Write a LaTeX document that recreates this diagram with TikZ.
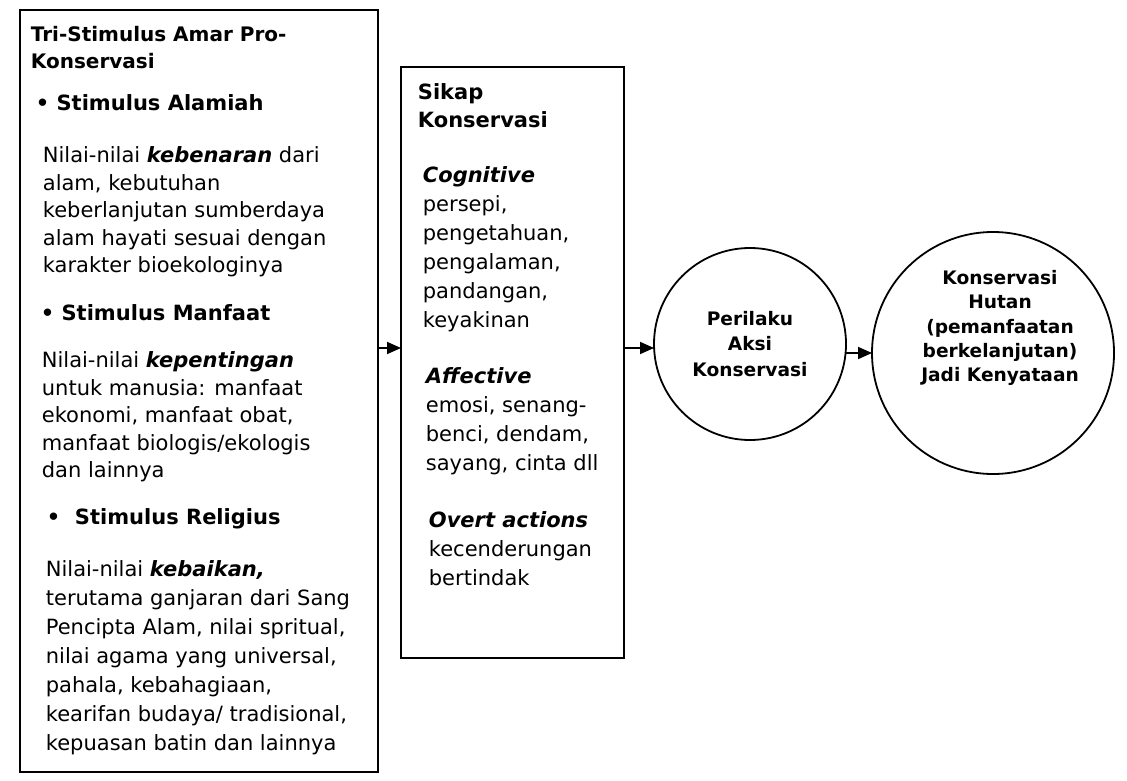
\documentclass[tikz,border=0pt]{standalone}
\usepackage{fontspec}
\setmainfont{DejaVu Sans}[ItalicFont={DejaVu Sans Oblique},BoldFont={DejaVu Sans Bold},BoldItalicFont={DejaVu Sans Bold Oblique}]
\usetikzlibrary{arrows.meta}

\begin{document}
\begin{tikzpicture}[x=0.5pt, y=-0.5pt, line width=0.9pt,
        panel/.style={draw, anchor=north west, inner sep=0pt, outer sep=0pt},
        ring/.style={draw, circle, inner sep=0pt, outer sep=0pt, align=center, font=\fontsize{9.3}{12.8}\selectfont\bfseries},
        ringtext/.style={inner sep=0pt, align=center, font=\fontsize{9.3}{12.2}\selectfont\bfseries},
        title/.style={anchor=north west, inner sep=0pt, align=left, font=\fontsize{10}{13.5}\selectfont\bfseries},
        head/.style={anchor=west, inner sep=0pt, font=\fontsize{10.5}{14}\selectfont\bfseries},
        body/.style={anchor=north west, inner sep=0pt, align=left, font=\fontsize{10.5}{13.75}\selectfont},
        sikapbody/.style={anchor=north west, inner sep=0pt, align=left, font=\fontsize{10.5}{14.5}\selectfont},
        link/.style={-{Triangle[length=7pt, width=6pt]}}]
                \useasboundingbox (0,0) rectangle (1127,780);

                \node[panel, minimum width=179pt, minimum height=381pt] (tri) at (20,10) {};
                \node[title] (trititle) at (30,25) {Tri-Stimulus Amar Pro-\\Konservasi};
                \node[head] (alamiah) at (35,103) {•\ Stimulus Alamiah};
                \node[body] (alamiahtext) at (42,146) {Nilai-nilai \textbf{\textit{kebenaran}} dari\\alam, kebutuhan\\keberlanjutan sumberdaya\\alam hayati sesuai dengan\\karakter bioekologinya};
                \node[head] (manfaat) at (40,313) {•\ Stimulus Manfaat};
                \node[body] (manfaattext) at (41,351) {Nilai-nilai \textbf{\textit{kepentingan}}\\untuk manusia: manfaat\\ekonomi, manfaat obat,\\manfaat biologis/ekologis\\dan lainnya};
                \node[head] (religius) at (46,519) {•\ \ Stimulus Religius};
                \node[body, font=\fontsize{10.5}{14.5}\selectfont] (religiustext) at (45,560) {Nilai-nilai \textbf{\textit{kebaikan,}}\\terutama ganjaran dari Sang\\Pencipta Alam, nilai spritual,\\nilai agama yang universal,\\pahala, kebahagiaan,\\kearifan budaya/ tradisional,\\kepuasan batin dan lainnya};

                \node[panel, minimum width=111.5pt, minimum height=295.5pt] (sikap) at (401,67) {};
                \node[title, font=\fontsize{10.5}{14}\selectfont\bfseries] (sikaptitle) at (417,83) {Sikap\\Konservasi};
                \node[sikapbody] (cognitive) at (422,166) {\textbf{\textit{Cognitive}}\\persepi,\\pengetahuan,\\pengalaman,\\pandangan,\\keyakinan};
                \node[sikapbody] (affective) at (425,367) {\textbf{\textit{Affective}}\\emosi, senang-\\benci, dendam,\\sayang, cinta dll};
                \node[sikapbody] (overt) at (428,511) {\textbf{\textit{Overt actions}}\\kecenderungan\\bertindak};

                \node[ring, minimum size=96pt] (perilaku) at (750,344) {Perilaku\\Aksi\\Konservasi};
                \node[ring, minimum size=121pt] (hutan) at (993,353) {};
                \node[ringtext] (hutantext) at (1000,328) {Konservasi\\Hutan\\(pemanfaatan\\berkelanjutan)\\Jadi Kenyataan};

                \coordinate (lvl) at (0,348);
                \draw[link] (tri.east |- lvl) -- (sikap.west |- lvl);
                \draw[link] (sikap.east |- lvl) -- (perilaku.west |- lvl);
                \draw[link] (perilaku.east |- hutan.west) -- (hutan.west);
\end{tikzpicture}
\end{document}
